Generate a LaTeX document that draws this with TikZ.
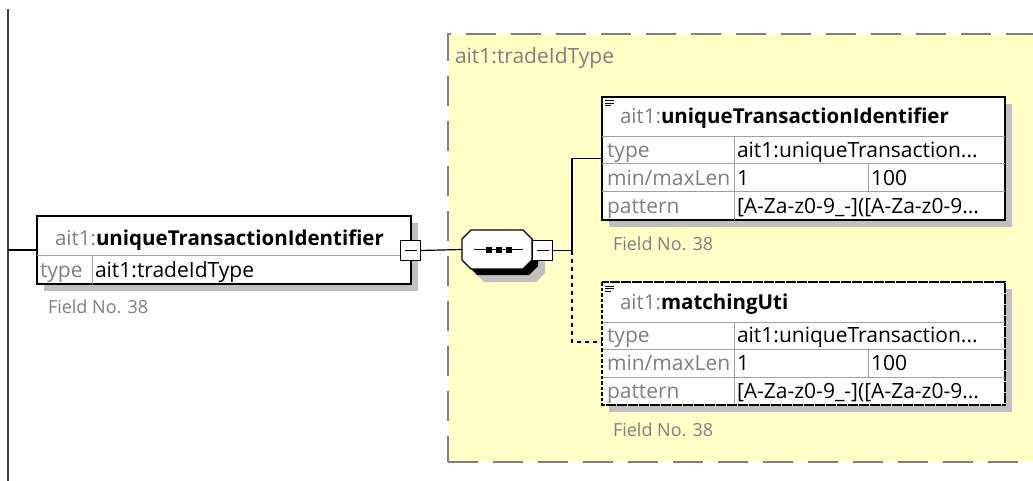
\documentclass[tikz,border=0pt]{standalone}
\usepackage{fontspec}
\setmainfont{Open Sans}
\usetikzlibrary{shadows}
\definecolor{yel}{HTML}{FFFFC6}
\definecolor{shd}{HTML}{C0C0C0}
\definecolor{lbl}{HTML}{808080}
\definecolor{sep}{HTML}{A0A0A0}
\definecolor{vline}{HTML}{404040}
\newcommand{\txtfont}{\fontsize{21}{24}\selectfont}
\newcommand{\hdfont}{\fontsize{20.5}{24}\selectfont}
\newcommand{\fldfont}{\fontsize{18}{20}\selectfont}
\begin{document}
\begin{tikzpicture}[x=1pt,y=-1pt,
  every node/.style={inner sep=0pt, outer sep=0pt},
  shd/.style={drop shadow={shadow xshift=7pt, shadow yshift=-7pt, opacity=1, fill=shd, draw=none}},
  elbox/.style={draw=black, line width=1.3pt, fill=white, anchor=north west, shd},
  optbox/.style={elbox, dash pattern=on 3pt off 2.5pt},
  minusbox/.style={draw=black, line width=1.2pt, fill=white, minimum size=20pt,
     path picture={\draw[line width=1.2pt] ([xshift=4pt]path picture bounding box.west) -- ([xshift=-4pt]path picture bounding box.east);}},
  seqbox/.style={minimum width=70pt, minimum height=39pt},
  conn/.style={draw=black, line width=1.2pt},
  rowsep/.style={draw=sep, line width=1pt},
  txtl/.style={anchor=base west, font=\txtfont},
  hdl/.style={anchor=base west, font=\hdfont},
  fld/.style={anchor=base west, font=\fldfont, text=lbl},
]
\useasboundingbox (0,0) rectangle (1033,481);
% type container
\node[draw=lbl, line width=1.5pt, dash pattern=on 30pt off 15pt, fill=yel, anchor=north west,
  minimum width=620pt, minimum height=428pt] (ctype) at (448,34) {};
\node[anchor=base west, font=\txtfont, text=lbl] (ctypelbl) at (455,64) {ait1:tradeIdType};
% left vertical line
\coordinate (vtop) at (8,9);
\coordinate (vbot) at (8,482);
\coordinate (vmid) at (8,250);
\draw[draw=vline, line width=2.2pt] (vtop) -- (vbot);
% root element
\node[elbox, minimum width=374pt, minimum height=68pt] (root) at (37,216) {};
\draw[rowsep] (37,255) -- (411,255);
\draw[rowsep] (92,255) -- (92,284);
\node[hdl] (roothead) at (55,245) {\textcolor{lbl}{ait1:}\textbf{uniqueTransactionIdentifier}};
\node[txtl, text=lbl] (roottypek) at (40,277.5) {type};
\node[txtl] (roottypev) at (95,277.5) {ait1:tradeIdType};
\node[fld] (rootfld) at (48,313) {Field No. 38};
\node[minusbox] (m1) at (410.5,250.5) {};
\draw[conn] (vmid) -- (root.west |- vmid);
% sequence (octagon compositor)
\node[seqbox] (seq) at (497,249.5) {};
\fill[shd] ([shift={(6,6)}]seq.west) ++(0,-10.5) -- ++(0,21) -- ++(9,9) -- ++(52,0) -- ++(9,-9) -- ++(0,-21) -- ++(-9,-9) -- ++(-52,0) -- cycle;
\draw[line width=1.3pt, fill=white] (seq.west) ++(0,-10.5) -- ++(0,21) -- ++(9,9) -- ++(52,0) -- ++(9,-9) -- ++(0,-21) -- ++(-9,-9) -- ++(-52,0) -- cycle;
\draw[line width=1.2pt] (474,249.5) -- (523,249.5);
\foreach \xx in {489,499,509} \fill (\xx-3,246.5) rectangle (\xx+3,252.5);
\node[minusbox] (m2) at (542.5,250.5) {};
\draw[conn] (m1.east) -- (seq.west);
\coordinate (fork) at (572,250.5);
\draw[conn] (m2.east) -- (fork);
% element 1
\node[elbox, minimum width=403pt, minimum height=123pt] (e1) at (602,97) {};
\draw[rowsep] (602,137) -- (1005,137);
\draw[rowsep] (602,164) -- (1005,164);
\draw[rowsep] (602,192) -- (1005,192);
\draw[rowsep] (734,137) -- (734,220);
\draw[rowsep] (868,164) -- (868,192);
\draw[line width=1pt] (605,101) -- (614,101) (605,103.5) -- (614,103.5) (605,106) -- (611,106);
\node[hdl] (e1head) at (620,124) {\textcolor{lbl}{ait1:}\textbf{uniqueTransactionIdentifier}};
\node[txtl, text=lbl] (e1k1) at (607,157.5) {type};
\node[txtl] (e1v1) at (737,157.5) {ait1:uniqueTransaction...};
\node[txtl, text=lbl] (e1k2) at (607,185.5) {min/maxLen};
\node[txtl] (e1v2) at (737,185.5) {1};
\node[txtl] (e1v3) at (871,185.5) {100};
\node[txtl, text=lbl] (e1k3) at (607,213.5) {pattern};
\node[txtl] (e1v4) at (737,213.5) {[A-Za-z0-9\_-]([A-Za-z0-9...};
\node[fld] (e1fld) at (613,251) {Field No. 38};
% element 2
\node[optbox, minimum width=403pt, minimum height=123pt] (e2) at (602,282) {};
\draw[rowsep] (602,322) -- (1005,322);
\draw[rowsep] (602,349) -- (1005,349);
\draw[rowsep] (602,377) -- (1005,377);
\draw[rowsep] (734,322) -- (734,405);
\draw[rowsep] (868,349) -- (868,377);
\draw[line width=1.3pt, dash pattern=on 3pt off 2.5pt] (e2.north west) rectangle (e2.south east);
\draw[line width=1pt] (605,286) -- (614,286) (605,288.5) -- (614,288.5) (605,291) -- (611,291);
\node[hdl] (e2head) at (620,309) {\textcolor{lbl}{ait1:}\textbf{matchingUti}};
\node[txtl, text=lbl] (e2k1) at (607,342.5) {type};
\node[txtl] (e2v1) at (737,342.5) {ait1:uniqueTransaction...};
\node[txtl, text=lbl] (e2k2) at (607,370.5) {min/maxLen};
\node[txtl] (e2v2) at (737,370.5) {1};
\node[txtl] (e2v3) at (871,370.5) {100};
\node[txtl, text=lbl] (e2k3) at (607,398.5) {pattern};
\node[txtl] (e2v4) at (737,398.5) {[A-Za-z0-9\_-]([A-Za-z0-9...};
\node[fld] (e2fld) at (613,436) {Field No. 38};
% connectors to children
\coordinate (j1) at (602,158.5);
\coordinate (j2) at (602,342);
\draw[conn] (fork) |- (j1);
\draw[conn, dash pattern=on 4pt off 4pt] (fork) |- (j2);
\end{tikzpicture}
\end{document}
